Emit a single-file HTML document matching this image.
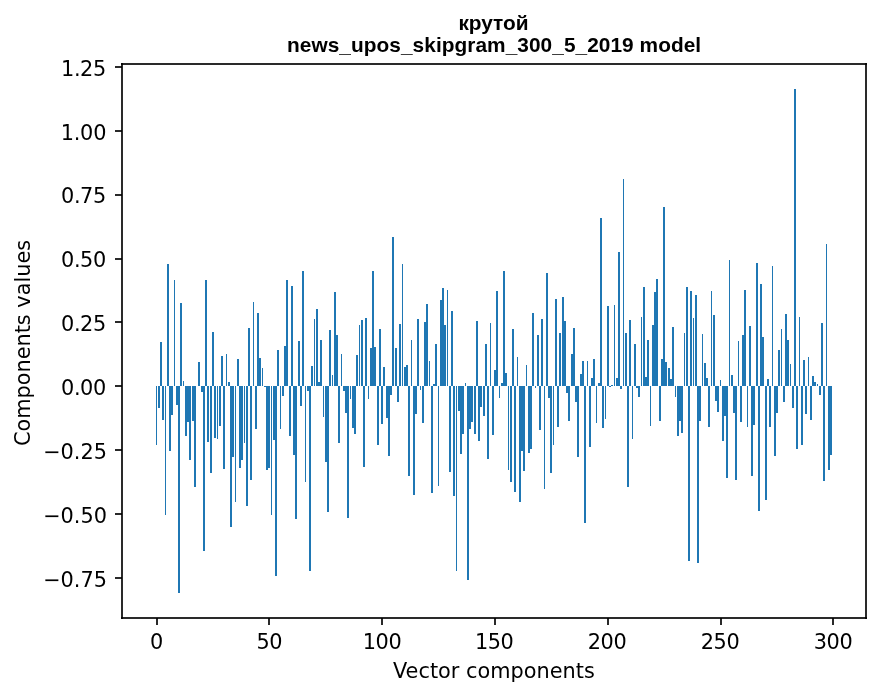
<!DOCTYPE html>
<html lang="ru"><head><meta charset="utf-8"><title>крутой — news_upos_skipgram_300_5_2019 model</title>
<style>html,body{margin:0;padding:0;background:#fff}body{width:880px;height:696px;overflow:hidden}svg{display:block}.t{font-family:"DejaVu Sans","Liberation Sans",sans-serif;font-size:20.8333px;fill:#000}.b{font-family:"Liberation Sans","DejaVu Sans",sans-serif;font-weight:700;font-size:20.8333px;fill:#000}</style></head><body>
<svg width="880" height="696" viewBox="0 0 880 696">
<rect width="880" height="696" fill="#fff"/>
<g fill="#1f77b4" shape-rendering="crispEdges">
<rect x="156" y="386" width="1" height="59"/>
<rect x="158" y="386" width="2" height="22"/>
<rect x="160" y="342" width="2" height="44"/>
<rect x="162" y="386" width="2" height="34"/>
<rect x="165" y="386" width="1" height="129"/>
<rect x="167" y="264" width="2" height="122"/>
<rect x="169" y="386" width="2" height="65"/>
<rect x="171" y="386" width="2" height="29"/>
<rect x="174" y="280" width="1" height="106"/>
<rect x="176" y="386" width="2" height="19"/>
<rect x="178" y="386" width="2" height="207"/>
<rect x="180" y="303" width="2" height="83"/>
<rect x="183" y="381" width="1" height="5"/>
<rect x="185" y="386" width="2" height="50"/>
<rect x="187" y="386" width="2" height="36"/>
<rect x="189" y="386" width="2" height="74"/>
<rect x="192" y="386" width="2" height="35"/>
<rect x="194" y="386" width="2" height="101"/>
<rect x="198" y="362" width="2" height="24"/>
<rect x="201" y="386" width="2" height="6"/>
<rect x="203" y="386" width="2" height="165"/>
<rect x="205" y="280" width="2" height="106"/>
<rect x="207" y="386" width="2" height="56"/>
<rect x="210" y="386" width="2" height="87"/>
<rect x="212" y="332" width="2" height="54"/>
<rect x="214" y="386" width="2" height="52"/>
<rect x="217" y="386" width="1" height="53"/>
<rect x="219" y="386" width="2" height="40"/>
<rect x="221" y="356" width="2" height="30"/>
<rect x="223" y="386" width="2" height="83"/>
<rect x="226" y="354" width="1" height="32"/>
<rect x="228" y="382" width="2" height="4"/>
<rect x="230" y="386" width="2" height="141"/>
<rect x="232" y="386" width="2" height="71"/>
<rect x="235" y="386" width="1" height="116"/>
<rect x="237" y="359" width="2" height="27"/>
<rect x="239" y="386" width="2" height="82"/>
<rect x="241" y="386" width="2" height="74"/>
<rect x="244" y="386" width="1" height="57"/>
<rect x="246" y="386" width="2" height="120"/>
<rect x="248" y="328" width="2" height="58"/>
<rect x="250" y="386" width="2" height="94"/>
<rect x="253" y="302" width="1" height="84"/>
<rect x="255" y="386" width="2" height="43"/>
<rect x="257" y="313" width="2" height="73"/>
<rect x="259" y="358" width="2" height="28"/>
<rect x="262" y="368" width="1" height="18"/>
<rect x="264" y="386" width="2" height="1"/>
<rect x="266" y="386" width="2" height="84"/>
<rect x="268" y="386" width="2" height="82"/>
<rect x="271" y="386" width="1" height="129"/>
<rect x="273" y="386" width="2" height="54"/>
<rect x="275" y="386" width="2" height="190"/>
<rect x="277" y="350" width="2" height="36"/>
<rect x="280" y="386" width="1" height="43"/>
<rect x="282" y="386" width="2" height="10"/>
<rect x="284" y="346" width="2" height="40"/>
<rect x="286" y="280" width="2" height="106"/>
<rect x="289" y="386" width="2" height="50"/>
<rect x="291" y="286" width="2" height="100"/>
<rect x="293" y="386" width="2" height="69"/>
<rect x="295" y="386" width="2" height="133"/>
<rect x="298" y="341" width="2" height="45"/>
<rect x="300" y="386" width="2" height="20"/>
<rect x="302" y="271" width="2" height="115"/>
<rect x="305" y="386" width="1" height="96"/>
<rect x="307" y="386" width="2" height="5"/>
<rect x="309" y="386" width="2" height="185"/>
<rect x="311" y="366" width="2" height="20"/>
<rect x="314" y="319" width="1" height="67"/>
<rect x="316" y="309" width="2" height="77"/>
<rect x="318" y="382" width="2" height="4"/>
<rect x="320" y="340" width="2" height="46"/>
<rect x="323" y="386" width="1" height="31"/>
<rect x="325" y="386" width="2" height="76"/>
<rect x="327" y="386" width="2" height="126"/>
<rect x="329" y="330" width="2" height="56"/>
<rect x="332" y="375" width="1" height="11"/>
<rect x="334" y="292" width="2" height="94"/>
<rect x="336" y="335" width="2" height="51"/>
<rect x="338" y="386" width="2" height="57"/>
<rect x="341" y="354" width="1" height="32"/>
<rect x="343" y="386" width="2" height="5"/>
<rect x="345" y="386" width="2" height="27"/>
<rect x="347" y="386" width="2" height="132"/>
<rect x="350" y="386" width="1" height="13"/>
<rect x="352" y="386" width="2" height="42"/>
<rect x="354" y="386" width="2" height="48"/>
<rect x="356" y="355" width="2" height="31"/>
<rect x="359" y="325" width="1" height="61"/>
<rect x="361" y="320" width="2" height="66"/>
<rect x="363" y="386" width="2" height="81"/>
<rect x="365" y="318" width="2" height="68"/>
<rect x="368" y="386" width="1" height="13"/>
<rect x="370" y="348" width="2" height="38"/>
<rect x="372" y="271" width="2" height="115"/>
<rect x="374" y="347" width="2" height="39"/>
<rect x="377" y="386" width="2" height="59"/>
<rect x="379" y="329" width="2" height="57"/>
<rect x="381" y="386" width="2" height="38"/>
<rect x="383" y="367" width="2" height="19"/>
<rect x="386" y="386" width="2" height="32"/>
<rect x="388" y="386" width="2" height="70"/>
<rect x="390" y="386" width="2" height="9"/>
<rect x="392" y="237" width="2" height="149"/>
<rect x="395" y="348" width="2" height="38"/>
<rect x="397" y="386" width="2" height="16"/>
<rect x="399" y="324" width="2" height="62"/>
<rect x="402" y="264" width="1" height="122"/>
<rect x="404" y="367" width="2" height="19"/>
<rect x="406" y="365" width="2" height="21"/>
<rect x="408" y="386" width="2" height="90"/>
<rect x="411" y="340" width="1" height="46"/>
<rect x="413" y="386" width="2" height="109"/>
<rect x="415" y="386" width="2" height="28"/>
<rect x="417" y="319" width="2" height="67"/>
<rect x="420" y="386" width="1" height="4"/>
<rect x="422" y="386" width="2" height="37"/>
<rect x="424" y="322" width="2" height="64"/>
<rect x="426" y="304" width="2" height="82"/>
<rect x="429" y="361" width="1" height="25"/>
<rect x="431" y="386" width="2" height="107"/>
<rect x="433" y="384" width="2" height="2"/>
<rect x="435" y="344" width="2" height="42"/>
<rect x="438" y="386" width="1" height="100"/>
<rect x="440" y="300" width="2" height="86"/>
<rect x="442" y="288" width="2" height="98"/>
<rect x="444" y="325" width="2" height="61"/>
<rect x="447" y="290" width="1" height="96"/>
<rect x="449" y="386" width="2" height="86"/>
<rect x="451" y="311" width="2" height="75"/>
<rect x="453" y="386" width="2" height="110"/>
<rect x="456" y="386" width="1" height="185"/>
<rect x="458" y="386" width="2" height="25"/>
<rect x="460" y="386" width="2" height="68"/>
<rect x="462" y="386" width="2" height="48"/>
<rect x="465" y="383" width="1" height="3"/>
<rect x="467" y="386" width="2" height="194"/>
<rect x="469" y="386" width="2" height="43"/>
<rect x="471" y="386" width="2" height="36"/>
<rect x="474" y="386" width="2" height="48"/>
<rect x="476" y="321" width="2" height="65"/>
<rect x="478" y="386" width="2" height="55"/>
<rect x="480" y="386" width="2" height="21"/>
<rect x="483" y="386" width="2" height="30"/>
<rect x="485" y="344" width="2" height="42"/>
<rect x="487" y="386" width="2" height="73"/>
<rect x="490" y="323" width="1" height="63"/>
<rect x="492" y="386" width="2" height="49"/>
<rect x="494" y="370" width="2" height="16"/>
<rect x="496" y="291" width="2" height="95"/>
<rect x="499" y="386" width="1" height="12"/>
<rect x="501" y="383" width="2" height="3"/>
<rect x="503" y="271" width="2" height="115"/>
<rect x="505" y="373" width="2" height="13"/>
<rect x="508" y="386" width="1" height="84"/>
<rect x="510" y="386" width="2" height="96"/>
<rect x="512" y="329" width="2" height="57"/>
<rect x="514" y="386" width="2" height="106"/>
<rect x="517" y="357" width="1" height="29"/>
<rect x="519" y="386" width="2" height="116"/>
<rect x="521" y="386" width="2" height="65"/>
<rect x="523" y="386" width="2" height="85"/>
<rect x="526" y="365" width="1" height="21"/>
<rect x="528" y="386" width="2" height="67"/>
<rect x="530" y="386" width="2" height="63"/>
<rect x="532" y="313" width="2" height="73"/>
<rect x="535" y="386" width="1" height="2"/>
<rect x="537" y="335" width="2" height="51"/>
<rect x="539" y="386" width="2" height="44"/>
<rect x="541" y="319" width="2" height="67"/>
<rect x="544" y="386" width="1" height="103"/>
<rect x="546" y="273" width="2" height="113"/>
<rect x="548" y="386" width="2" height="12"/>
<rect x="550" y="386" width="2" height="87"/>
<rect x="553" y="386" width="1" height="59"/>
<rect x="555" y="299" width="2" height="87"/>
<rect x="557" y="386" width="2" height="41"/>
<rect x="559" y="333" width="2" height="53"/>
<rect x="562" y="297" width="2" height="89"/>
<rect x="564" y="321" width="2" height="65"/>
<rect x="566" y="386" width="2" height="7"/>
<rect x="568" y="386" width="2" height="35"/>
<rect x="571" y="354" width="2" height="32"/>
<rect x="573" y="328" width="2" height="58"/>
<rect x="575" y="386" width="2" height="16"/>
<rect x="577" y="386" width="2" height="71"/>
<rect x="580" y="374" width="2" height="12"/>
<rect x="582" y="361" width="2" height="25"/>
<rect x="584" y="386" width="2" height="137"/>
<rect x="587" y="361" width="1" height="25"/>
<rect x="589" y="386" width="2" height="61"/>
<rect x="591" y="378" width="2" height="8"/>
<rect x="593" y="359" width="2" height="27"/>
<rect x="596" y="386" width="1" height="37"/>
<rect x="598" y="383" width="2" height="3"/>
<rect x="600" y="218" width="2" height="168"/>
<rect x="602" y="386" width="2" height="42"/>
<rect x="605" y="386" width="1" height="33"/>
<rect x="607" y="306" width="2" height="80"/>
<rect x="609" y="386" width="2" height="1"/>
<rect x="611" y="385" width="2" height="1"/>
<rect x="614" y="305" width="1" height="81"/>
<rect x="616" y="378" width="2" height="8"/>
<rect x="618" y="252" width="2" height="134"/>
<rect x="620" y="386" width="2" height="3"/>
<rect x="623" y="179" width="1" height="207"/>
<rect x="625" y="333" width="2" height="53"/>
<rect x="627" y="386" width="2" height="101"/>
<rect x="629" y="320" width="2" height="66"/>
<rect x="632" y="386" width="1" height="53"/>
<rect x="634" y="344" width="2" height="42"/>
<rect x="636" y="386" width="2" height="2"/>
<rect x="638" y="386" width="2" height="11"/>
<rect x="641" y="317" width="1" height="69"/>
<rect x="643" y="287" width="2" height="99"/>
<rect x="645" y="377" width="2" height="9"/>
<rect x="647" y="340" width="2" height="46"/>
<rect x="650" y="386" width="1" height="40"/>
<rect x="652" y="325" width="2" height="61"/>
<rect x="654" y="292" width="2" height="94"/>
<rect x="656" y="279" width="2" height="107"/>
<rect x="659" y="386" width="2" height="35"/>
<rect x="661" y="359" width="2" height="27"/>
<rect x="663" y="207" width="2" height="179"/>
<rect x="665" y="362" width="2" height="24"/>
<rect x="668" y="368" width="2" height="18"/>
<rect x="670" y="379" width="2" height="7"/>
<rect x="672" y="327" width="2" height="59"/>
<rect x="675" y="386" width="1" height="11"/>
<rect x="677" y="386" width="2" height="50"/>
<rect x="679" y="386" width="2" height="35"/>
<rect x="681" y="386" width="2" height="47"/>
<rect x="684" y="333" width="1" height="53"/>
<rect x="686" y="287" width="2" height="99"/>
<rect x="688" y="386" width="2" height="175"/>
<rect x="690" y="291" width="2" height="95"/>
<rect x="693" y="318" width="1" height="68"/>
<rect x="695" y="295" width="2" height="91"/>
<rect x="697" y="386" width="2" height="177"/>
<rect x="699" y="386" width="2" height="35"/>
<rect x="702" y="334" width="1" height="52"/>
<rect x="704" y="363" width="2" height="23"/>
<rect x="706" y="378" width="2" height="8"/>
<rect x="708" y="386" width="2" height="41"/>
<rect x="711" y="291" width="1" height="95"/>
<rect x="713" y="315" width="2" height="71"/>
<rect x="715" y="386" width="2" height="15"/>
<rect x="717" y="386" width="2" height="26"/>
<rect x="720" y="380" width="1" height="6"/>
<rect x="722" y="386" width="2" height="55"/>
<rect x="724" y="386" width="2" height="30"/>
<rect x="726" y="386" width="2" height="92"/>
<rect x="729" y="260" width="1" height="126"/>
<rect x="731" y="375" width="2" height="11"/>
<rect x="733" y="386" width="2" height="27"/>
<rect x="735" y="386" width="2" height="94"/>
<rect x="738" y="341" width="1" height="45"/>
<rect x="740" y="386" width="2" height="36"/>
<rect x="742" y="335" width="2" height="51"/>
<rect x="744" y="290" width="2" height="96"/>
<rect x="747" y="386" width="1" height="41"/>
<rect x="749" y="326" width="2" height="60"/>
<rect x="751" y="386" width="2" height="90"/>
<rect x="753" y="386" width="2" height="39"/>
<rect x="756" y="263" width="2" height="123"/>
<rect x="758" y="386" width="2" height="125"/>
<rect x="760" y="284" width="2" height="102"/>
<rect x="762" y="337" width="2" height="49"/>
<rect x="765" y="386" width="2" height="114"/>
<rect x="767" y="379" width="2" height="7"/>
<rect x="769" y="386" width="2" height="41"/>
<rect x="772" y="266" width="1" height="120"/>
<rect x="774" y="386" width="2" height="70"/>
<rect x="776" y="386" width="2" height="27"/>
<rect x="778" y="350" width="2" height="36"/>
<rect x="781" y="329" width="1" height="57"/>
<rect x="783" y="386" width="2" height="16"/>
<rect x="785" y="314" width="2" height="72"/>
<rect x="787" y="340" width="2" height="46"/>
<rect x="790" y="364" width="1" height="22"/>
<rect x="792" y="386" width="2" height="22"/>
<rect x="794" y="89" width="2" height="297"/>
<rect x="796" y="386" width="2" height="63"/>
<rect x="799" y="317" width="1" height="69"/>
<rect x="801" y="386" width="2" height="59"/>
<rect x="803" y="360" width="2" height="26"/>
<rect x="805" y="386" width="2" height="28"/>
<rect x="808" y="357" width="1" height="29"/>
<rect x="810" y="386" width="2" height="34"/>
<rect x="812" y="376" width="2" height="10"/>
<rect x="814" y="382" width="2" height="4"/>
<rect x="817" y="384" width="1" height="2"/>
<rect x="819" y="386" width="2" height="9"/>
<rect x="821" y="323" width="2" height="63"/>
<rect x="823" y="386" width="2" height="95"/>
<rect x="826" y="244" width="1" height="142"/>
<rect x="828" y="386" width="2" height="84"/>
<rect x="830" y="386" width="2" height="69"/>
</g>
<g fill="#000" fill-opacity="0.8353" shape-rendering="crispEdges">
<rect x="121" y="63" width="746" height="2"/><rect x="121" y="617" width="746" height="2"/>
<rect x="121" y="63" width="2" height="556"/><rect x="865" y="63" width="2" height="556"/>
<rect x="115" y="66" width="7" height="2"/>
<rect x="115" y="130" width="7" height="2"/>
<rect x="115" y="194" width="7" height="2"/>
<rect x="115" y="258" width="7" height="2"/>
<rect x="115" y="321" width="7" height="2"/>
<rect x="115" y="385" width="7" height="2"/>
<rect x="115" y="449" width="7" height="2"/>
<rect x="115" y="513" width="7" height="2"/>
<rect x="115" y="577" width="7" height="2"/>
<rect x="156" y="618" width="2" height="7"/>
<rect x="268" y="618" width="2" height="7"/>
<rect x="381" y="618" width="2" height="7"/>
<rect x="494" y="618" width="2" height="7"/>
<rect x="607" y="618" width="2" height="7"/>
<rect x="720" y="618" width="2" height="7"/>
<rect x="832" y="618" width="2" height="7"/>
</g>
<text class="t" text-anchor="middle" style="letter-spacing:-0.55px" x="156.27" y="648.86">0</text>
<text class="t" text-anchor="middle" style="letter-spacing:-0.55px" x="269.20" y="648.86">50</text>
<text class="t" text-anchor="middle" style="letter-spacing:-0.45px" x="382.00" y="648.86">100</text>
<text class="t" text-anchor="middle" style="letter-spacing:-0.4px" x="494.18" y="648.86">150</text>
<text class="t" text-anchor="middle" style="letter-spacing:-0.4px" x="606.98" y="648.86">200</text>
<text class="t" text-anchor="middle" style="letter-spacing:-0.45px" x="720.03" y="648.86">250</text>
<text class="t" text-anchor="middle" style="letter-spacing:-0.35px" x="833.08" y="648.86">300</text>
<text class="t" text-anchor="middle" style="letter-spacing:0.015px" x="493.92" y="677.75">Vector components</text>
<text class="t" text-anchor="end" style="letter-spacing:-0.4px" x="105.84" y="75.55">1.25</text>
<text class="t" text-anchor="end" style="letter-spacing:-0.2px" x="106.22" y="139.99">1.00</text>
<text class="t" text-anchor="end" style="letter-spacing:-0.4px" x="105.84" y="202.83">0.75</text>
<text class="t" text-anchor="end" style="letter-spacing:-0.4px" x="105.84" y="266.68">0.50</text>
<text class="t" text-anchor="end" style="letter-spacing:-0.4px" x="105.84" y="330.52">0.25</text>
<text class="t" text-anchor="end" style="letter-spacing:-0.4px" x="105.84" y="394.76">0.00</text>
<text class="t" text-anchor="end" x="106.97" y="458.60">−0.25</text>
<text class="t" text-anchor="end" x="106.97" y="523.04">−0.50</text>
<text class="t" text-anchor="end" x="106.97" y="586.88">−0.75</text>
<text class="t" text-anchor="middle" transform="translate(29.83 343.02) rotate(-90)">Components values</text>
<text class="b" text-anchor="middle" style="letter-spacing:-0.015px" x="493.50" y="29.50">крутой</text>
<text class="b" text-anchor="middle" style="letter-spacing:0.058px" x="494.12" y="51.54">news_upos_skipgram_300_5_2019 model</text>
</svg></body></html>
